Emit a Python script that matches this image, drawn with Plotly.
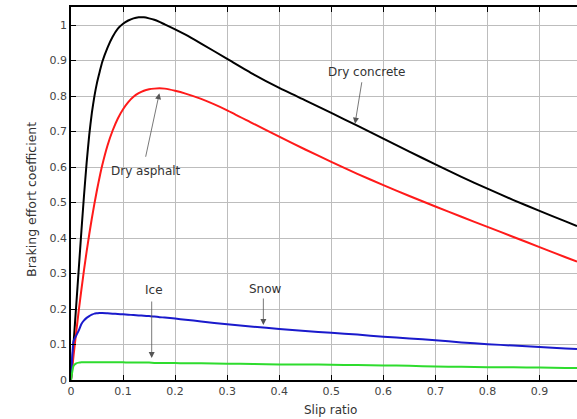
import plotly.graph_objects as go

slip = [0, 0.005, 0.01, 0.015, 0.02, 0.025, 0.03, 0.035, 0.04, 0.045, 0.05, 0.055, 0.06,
        0.07, 0.08, 0.09, 0.1, 0.11, 0.12, 0.13, 0.14, 0.15, 0.16, 0.17, 0.18, 0.2, 0.22,
        0.25, 0.3, 0.35, 0.4, 0.45, 0.5, 0.55, 0.6, 0.65, 0.7, 0.75, 0.8, 0.85, 0.9, 0.95, 0.972]
dry_concrete = [0, 0.105, 0.21, 0.315, 0.42, 0.52, 0.612, 0.69, 0.752, 0.8, 0.838, 0.868, 0.896,
                0.936, 0.967, 0.99, 1.004, 1.013, 1.019, 1.022, 1.022, 1.019, 1.015, 1.009, 1.002, 0.988, 0.973,
                0.948, 0.905, 0.862, 0.823, 0.788, 0.7525, 0.7165, 0.68, 0.6435, 0.6075, 0.5725, 0.539, 0.507,
                0.4765, 0.447, 0.434]
dry_asphalt = [0, 0.07, 0.135, 0.197, 0.255, 0.31, 0.362, 0.41, 0.455, 0.497, 0.536, 0.572, 0.605,
               0.66, 0.703, 0.737, 0.763, 0.783, 0.798, 0.808, 0.815, 0.819, 0.821, 0.822, 0.821, 0.815, 0.807,
               0.792, 0.76, 0.7225, 0.6855, 0.6495, 0.6145, 0.581, 0.549, 0.5185, 0.489, 0.46, 0.4315, 0.403,
               0.3745, 0.346, 0.3335]
snow = [0, 0.11, 0.125, 0.14, 0.158, 0.168, 0.175, 0.18, 0.184, 0.187, 0.188, 0.189, 0.189,
        0.188, 0.187, 0.186, 0.185, 0.184, 0.183, 0.182, 0.181, 0.18, 0.179, 0.177, 0.176, 0.173, 0.17,
        0.165, 0.157, 0.15, 0.144, 0.138, 0.133, 0.128, 0.122, 0.117, 0.112, 0.106, 0.101, 0.097, 0.093, 0.089, 0.087]
ice = [0, 0.04, 0.047, 0.049, 0.05, 0.05, 0.05, 0.05, 0.05, 0.05, 0.05, 0.05, 0.05,
       0.05, 0.05, 0.05, 0.05, 0.049, 0.049, 0.049, 0.049, 0.049, 0.048, 0.048, 0.048, 0.048, 0.047,
       0.047, 0.046, 0.045, 0.044, 0.044, 0.043, 0.042, 0.041, 0.04, 0.038, 0.037, 0.036, 0.036, 0.035, 0.034, 0.034]

x_ticks = [0, 0.1, 0.2, 0.3, 0.4, 0.5, 0.6, 0.7, 0.8, 0.9]
x_tick_labels = ["0", "0.1", "0.2", "0.3", "0.4", "0.5", "0.6", "0.7", "0.8", "0.9"]
y_ticks = [0, 0.1, 0.2, 0.3, 0.4, 0.5, 0.6, 0.7, 0.8, 0.9, 1.0]
y_tick_labels = ["0", "0.1", "0.2", "0.3", "0.4", "0.5", "0.6", "0.7", "0.8", "0.9", "1"]

series = [
    ("Dry concrete", dry_concrete, "#000000"),
    ("Dry asphalt", dry_asphalt, "#ff1a1a"),
    ("Snow", snow, "#1a1acc"),
    ("Ice", ice, "#2edc2e"),
]

fig = go.Figure()
for name, ys, col in series:
    fig.add_trace(go.Scatter(x=slip, y=ys, mode="lines", name=name,
                             line=dict(color=col, width=2, shape="spline", smoothing=0.5),
                             showlegend=False, hoverinfo="skip"))

tick_font = dict(family="DejaVu Sans, sans-serif", size=11, color="#444444")
lab_font = dict(family="DejaVu Sans, sans-serif", size=12, color="#333333")

# curve labels: (text, x, y)
labels = [("Dry concrete", 0.567, 0.868), ("Dry asphalt", 0.144, 0.588),
          ("Ice", 0.159, 0.253), ("Snow", 0.3727, 0.256)]
for t, lx, ly in labels:
    fig.add_annotation(x=lx, y=ly, text=t, showarrow=False, font=lab_font)

# arrows: tip (x, y) and tail offset in pixels
arrows = [(0.5456, 0.722, 7, -43), (0.1697, 0.808, -14, 65),
          (0.155, 0.062, 0, -58), (0.3695, 0.155, 0, -28)]
for ax_, ay_, dx, dy in arrows:
    fig.add_annotation(x=ax_, y=ay_, text="", showarrow=True, ax=dx, ay=dy,
                       arrowhead=2, arrowsize=1.5, arrowwidth=0.8, arrowcolor="#555555")

# axis titles
fig.add_annotation(xref="paper", yref="paper", x=0.513, y=-0.08, text="Slip ratio",
                   showarrow=False, font=lab_font, xanchor="center", yanchor="middle")
fig.add_annotation(xref="paper", yref="paper", x=-0.077, y=0.483, text="Braking effort coefficient",
                   showarrow=False, font=dict(family="DejaVu Sans, sans-serif", size=12.5, color="#333333"),
                   textangle=-90, xanchor="center", yanchor="middle")

fig.update_layout(
    width=577, height=419,
    margin=dict(l=71, r=0, t=7, b=39, autoexpand=False),
    paper_bgcolor="white", plot_bgcolor="white",
    font=tick_font,
)
fig.update_xaxes(range=[0, 0.972], tickvals=x_ticks, ticktext=x_tick_labels,
                 showgrid=True, gridcolor="#bdbdbd", gridwidth=1, automargin=False,
                 showline=True, linecolor="black", linewidth=1.5, mirror="ticks",
                 ticks="inside", ticklen=5, tickcolor="black", zeroline=False,
                 tickfont=tick_font)
fig.update_yaxes(range=[0, 1.051], tickvals=y_ticks, ticktext=y_tick_labels,
                 showgrid=True, gridcolor="#bdbdbd", gridwidth=1, automargin=False,
                 showline=True, linecolor="black", linewidth=1.5,
                 ticks="inside", ticklen=5, tickcolor="black", zeroline=False,
                 tickfont=tick_font)

fig.write_html("out.html", config={"displayModeBar": False},
               post_script="document.body.style.margin='0';document.body.style.padding='0';")
